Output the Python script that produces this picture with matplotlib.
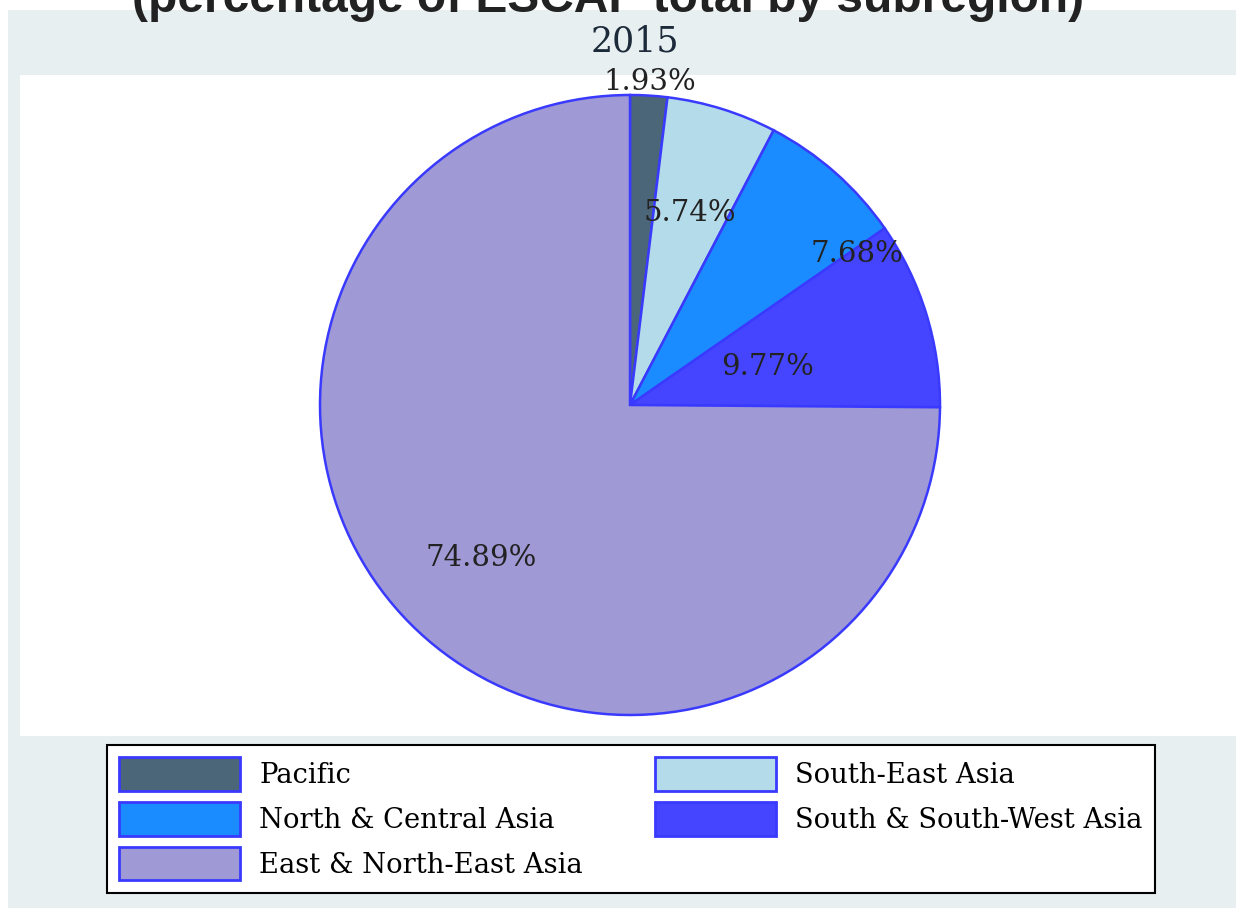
import matplotlib.pyplot as plt
from matplotlib.patches import Rectangle, Patch
import numpy as np

# data
regions = ["Pacific", "South-East Asia", "North & Central Asia",
           "South & South-West Asia", "East & North-East Asia"]
shares = [1.93, 5.74, 7.68, 9.77, 74.89]
colors = ["#4b6678", "#b4dbe9", "#1a8cff", "#4545ff", "#9f99d6"]
label_text = ["1.93%", "5.74%", "7.68%", "9.77%", "74.89%"]
# label placement: radius fraction and angle tweak (deg) per slice
label_r = [1.045, 0.65, 0.88, 0.46, 0.69]
label_dang = [0.0, 0.0, -15.0, -1.7, 1.0]

edge = "#3a3aff"
W, H = 1236, 909

fig = plt.figure(figsize=(W / 100, H / 100), dpi=100)
fig.patch.set_facecolor("white")

# outer panel and white plot region
fig.patches.append(Rectangle((8 / W, 1 - 908 / H), (W - 8) / W, 898 / H,
                             transform=fig.transFigure, facecolor="#e8eff1",
                             edgecolor="none", zorder=-2))
fig.patches.append(Rectangle((20 / W, 1 - 736 / H), (W - 20) / W, 661 / H,
                             transform=fig.transFigure, facecolor="white",
                             edgecolor="none", zorder=-1))

fig.text(608 / W, 1 - 12 / H, "(percentage of ESCAP total by subregion)",
         ha="center", va="baseline", fontsize=34.5, fontweight="bold",
         family="Liberation Sans", color="#222222")
fig.text(635 / W, 1 - 42 / H, "2015", ha="center", va="center",
         fontsize=25, family="DejaVu Serif", color="#1c2a3a")

cx, cy, r = 630, 405, 310
ax = fig.add_axes([(cx - r) / W, (H - cy - r) / H, 2 * r / W, 2 * r / H])
wedges, _ = ax.pie(shares, colors=colors, startangle=90, counterclock=False,
                   wedgeprops=dict(edgecolor=edge, linewidth=1.8))
ax.set_xlim(-1, 1)
ax.set_ylim(-1, 1)
ax.set_aspect("equal")
ax.axis("off")

for w, txt, rf, da in zip(wedges, label_text, label_r, label_dang):
    ang = np.deg2rad((w.theta1 + w.theta2) / 2 + da)
    ax.text(rf * np.cos(ang), rf * np.sin(ang), txt, ha="center", va="center",
            fontsize=21, family="DejaVu Serif", color="#222222", clip_on=False)

order = [0, 2, 4, 1, 3]
handles = [Patch(facecolor=colors[i], edgecolor=edge, linewidth=2) for i in order]
labels = [regions[i] for i in order]
leg = fig.legend(handles, labels, loc="upper left", ncol=2, mode="expand",
                 bbox_to_anchor=(107 / W, 1 - 891 / H, 1048 / W, 146 / H),
                 borderaxespad=0,
                 prop=dict(family="DejaVu Serif", size=19.7),
                 handlelength=4.4, handleheight=1.5, handletextpad=0.72,
                 labelspacing=0.42, borderpad=0.45, fancybox=False,
                 framealpha=1, edgecolor="black")
leg.get_frame().set_linewidth(1.5)

fig.savefig("out.png", dpi=100)
